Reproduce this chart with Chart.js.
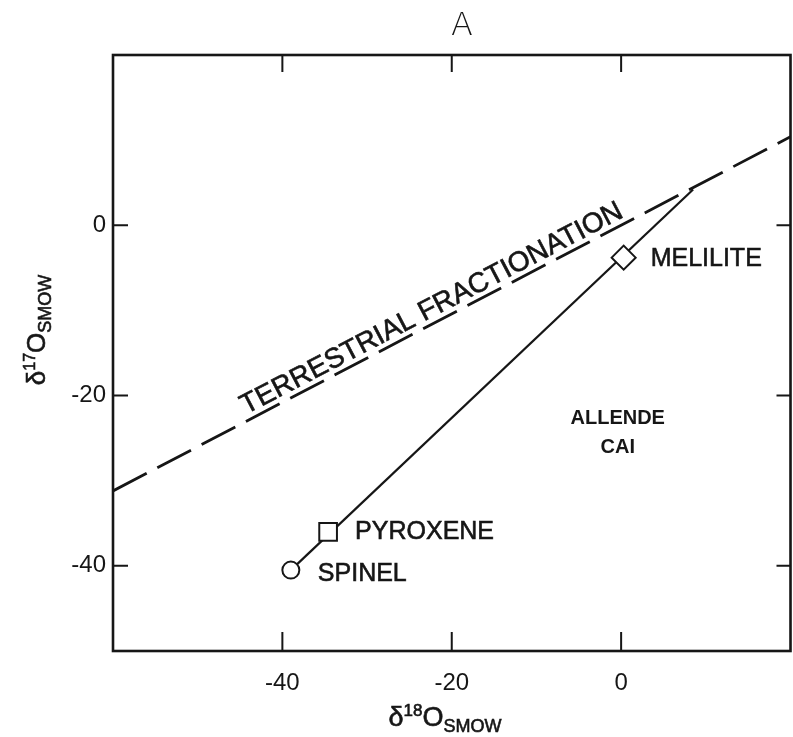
<!DOCTYPE html>
<html>
<head>
<meta charset="utf-8">
<script src="https://cdn.jsdelivr.net/npm/chart.js@4"></script>
<style>
  html, body { margin: 0; padding: 0; background: #fff; overflow: hidden; }
  canvas { display: block; }
</style>
</head>
<body>
<!-- a little wider than the window: the layout keeps a right margin we don't want -->
<canvas id="oxygen-chart" width="805" height="737"></canvas>
<script>
// Mineral separates of the Allende inclusion (per mil, SMOW)
const minerals = ["SPINEL", "PYROXENE", "MELILITE"];
const mineralD18 = [-39.0, -34.6, 0.3];
const mineralD17 = [-40.5, -36.0, -3.8];
const mineralMarks = ["circle", "rect", "rectRot"];

// mixing line through the separates, up to where it meets the fractionation line
const mixD18 = [-39.0, 8.5];
const mixD17 = [-40.5, 4.2];

// terrestrial fractionation line, slope ~0.52
const fracD18 = [-60, 20];
const fracD17 = [-31.2, 10.4];

const xTicks = [-40, -20, 0];
const yTicks = [0, -20, -40];

const ink = "#161616";
const FONT = "'Liberation Sans', Arial, Helvetica, sans-serif";
Chart.defaults.font.family = FONT;

const toPoints = (xs, ys) => xs.map((x, i) => ({ x, y: ys[i] }));

// fill plus a hairline stroke so the lettering reads a little heavier
const inkText = (ctx, s, x, y) => {
  ctx.fillText(s, x, y);
  ctx.strokeText(s, x, y);
};

// draws a run of text pieces with their own size and baseline shift
const richText = (ctx, parts, x, y) => {
  let w = 0;
  parts.forEach((p) => {
    ctx.font = `${p.size}px ${FONT}`;
    w += ctx.measureText(p.t).width;
  });
  let cx = x - w / 2;
  ctx.textAlign = "left";
  ctx.textBaseline = "alphabetic";
  parts.forEach((p) => {
    ctx.font = `${p.size}px ${FONT}`;
    inkText(ctx, p.t, cx, y + (p.dy || 0));
    cx += ctx.measureText(p.t).width;
  });
};

// frame on all four sides with inward tick marks
const framePlugin = {
  id: "frame",
  afterDatasetsDraw(chart) {
    const { ctx, chartArea: a, scales } = chart;
    ctx.save();
    ctx.strokeStyle = ink;
    ctx.lineWidth = 2.6;
    ctx.strokeRect(a.left, a.top, a.right - a.left, a.bottom - a.top);
    ctx.lineWidth = 2;
    ctx.beginPath();
    xTicks.forEach((v) => {
      const px = scales.x.getPixelForValue(v);
      ctx.moveTo(px, a.top); ctx.lineTo(px, a.top + 17);
      ctx.moveTo(px, a.bottom); ctx.lineTo(px, a.bottom - 19);
    });
    yTicks.forEach((v) => {
      const py = scales.y.getPixelForValue(v);
      ctx.moveTo(a.left, py); ctx.lineTo(a.left + 15, py);
      ctx.moveTo(a.right, py); ctx.lineTo(a.right - 14, py);
    });
    ctx.stroke();
    ctx.restore();
  },
};

const labelPlugin = {
  id: "labels",
  afterDraw(chart) {
    const { ctx, scales } = chart;
    const sx = scales.x, sy = scales.y;
    ctx.save();
    ctx.fillStyle = ink;
    ctx.strokeStyle = ink;
    ctx.lineWidth = 0.6;

    // panel letter
    ctx.font = `200 32px 'DejaVu Sans', ${FONT}`;
    ctx.textAlign = "center";
    ctx.textBaseline = "alphabetic";
    ctx.fillText("A", 462, 35);

    // mineral names beside their markers
    ctx.font = `25px ${FONT}`;
    ctx.textAlign = "left";
    ctx.textBaseline = "middle";
    const nudge = [4, 0, 1];
    minerals.forEach((name, i) => {
      const px = sx.getPixelForValue(mineralD18[i]);
      const py = sy.getPixelForValue(mineralD17[i]);
      inkText(ctx, name, px + 27, py + nudge[i]);
    });

    // inclusion name
    ctx.font = `bold 20px ${FONT}`;
    ctx.textAlign = "center";
    ctx.fillText("ALLENDE", sx.getPixelForValue(-0.4), sy.getPixelForValue(-22.7));
    ctx.fillText("CAI", sx.getPixelForValue(-0.4), sy.getPixelForValue(-26.1));

    // label set along the fractionation line
    const x0 = sx.getPixelForValue(fracD18[0]), y0 = sy.getPixelForValue(fracD17[0]);
    const x1 = sx.getPixelForValue(fracD18[1]), y1 = sy.getPixelForValue(fracD17[1]);
    const ang = Math.atan2(y1 - y0, x1 - x0);
    const t = (-21.6 - fracD18[0]) / (fracD18[1] - fracD18[0]);
    ctx.translate(x0 + (x1 - x0) * t, y0 + (y1 - y0) * t);
    ctx.rotate(ang);
    ctx.font = `28px ${FONT}`;
    ctx.textAlign = "center";
    ctx.textBaseline = "alphabetic";
    inkText(ctx, "TERRESTRIAL FRACTIONATION", 0, -6);
    ctx.restore();

    // axis titles
    ctx.save();
    ctx.fillStyle = ink;
    ctx.strokeStyle = ink;
    ctx.lineWidth = 0.6;
    richText(ctx, [
      { t: "\u03b4", size: 27 },
      { t: "18", size: 17, dy: -10 },
      { t: "O", size: 27 },
      { t: "SMOW", size: 18, dy: 6 },
    ], 445, 726);
    ctx.translate(45, 330);
    ctx.rotate(-Math.PI / 2);
    richText(ctx, [
      { t: "\u03b4", size: 26 },
      { t: "17", size: 16, dy: -10 },
      { t: "O", size: 26 },
      { t: "SMOW", size: 18, dy: 6 },
    ], 0, 0);
    ctx.restore();
  },
};

new Chart(document.getElementById("oxygen-chart"), {
  type: "scatter",
  data: {
    datasets: [
      {
        label: "separates",
        data: toPoints(mineralD18, mineralD17),
        pointStyle: mineralMarks,
        pointRadius: [8.5, 12.5, 12],
        pointBorderWidth: 2,
        pointBorderColor: ink,
        pointBackgroundColor: "#fff",
        showLine: false,
      },
      {
        label: "mixing",
        data: toPoints(mixD18, mixD17),
        showLine: true,
        borderColor: ink,
        borderWidth: 2.2,
        pointRadius: 0,
      },
      {
        label: "terrestrial fractionation",
        data: toPoints(fracD18, fracD17),
        showLine: true,
        borderColor: ink,
        borderWidth: 2.8,
        borderDash: [38, 12],
        pointRadius: 0,
      },
    ],
  },
  options: {
    responsive: false,
    animation: false,
    devicePixelRatio: 1,
    layout: { padding: { top: 55, right: 3, left: 0, bottom: 0 } },
    plugins: {
      legend: { display: false },
      tooltip: { enabled: false },
    },
    scales: {
      x: {
        type: "linear",
        min: -60,
        max: 20,
        afterFit: (s) => { s.height = 86; s.paddingLeft = 0; s.paddingRight = 0; },
        afterBuildTicks: (s) => { s.ticks = xTicks.map((v) => ({ value: v })); },
        ticks: { color: ink, font: { size: 24 }, padding: 18, maxRotation: 0 },
        grid: { display: false, drawTicks: false },
        border: { display: false },
      },
      y: {
        type: "linear",
        min: -50,
        max: 20,
        afterFit: (s) => { s.width = 113; s.paddingTop = 0; s.paddingBottom = 0; },
        afterBuildTicks: (s) => { s.ticks = yTicks.map((v) => ({ value: v })); },
        ticks: { color: ink, font: { size: 24 }, padding: 7 },
        grid: { display: false, drawTicks: false },
        border: { display: false },
      },
    },
  },
  plugins: [framePlugin, labelPlugin],
});
</script>
</body>
</html>
